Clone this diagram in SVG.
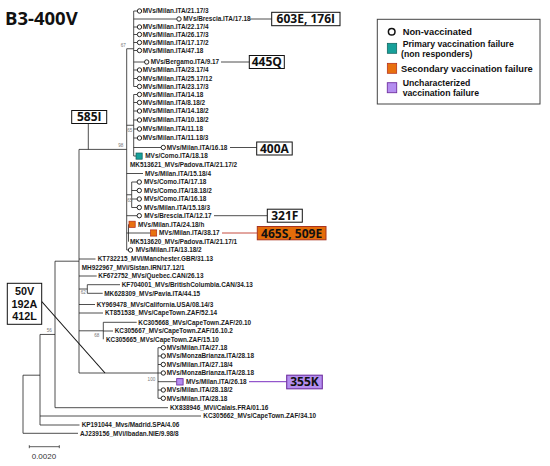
<svg xmlns="http://www.w3.org/2000/svg" width="550" height="466" viewBox="0 0 550 466">
<style>
.lf{font-family:"Liberation Sans",Arial,sans-serif;font-size:6.4px;font-weight:bold;fill:#1a1a1a}
.bs{font-family:"Liberation Sans",Arial,sans-serif;font-size:4.6px;fill:#777}
.br{stroke:#222;stroke-width:0.8;fill:none}
.c{fill:#fff;stroke:#111;stroke-width:0.9}
.box{fill:#fff;stroke:#111;stroke-width:1}
.bl{font-family:"Open Sans","Liberation Sans",sans-serif;font-weight:bold;font-size:12px;fill:#111;text-anchor:middle}
.bm{font-family:"Liberation Sans",Arial,sans-serif;font-weight:bold;font-size:10.8px;fill:#111;text-anchor:middle}
.lg{font-family:"Liberation Sans",Arial,sans-serif;font-weight:bold;font-size:9.3px;fill:#111}
.lg2{font-family:"Liberation Sans",Arial,sans-serif;font-weight:bold;font-size:8.7px;fill:#111}
.teal{fill:#17a09a;stroke:#0d5e5a;stroke-width:0.7}
.org{fill:#e8700f;stroke:#b0281a;stroke-width:0.7}
.pur{fill:#b48ef0;stroke:#7030a0;stroke-width:0.9}
</style>
<rect width="550" height="466" fill="#fff"/>
<text x="5" y="24.5" style="font-family:'Open Sans','Liberation Sans',sans-serif;font-weight:bold;font-size:18.5px;fill:#111">B3-400V</text>

<g id="connectors">
<path class="br" d="M23 375.2V433.3M23 375.2H40M23 433.3H78
M40 334.45V425M40 334.45H55M40 416H201M40 425H79.5
M55 261.2V407.7M55 261.2H79M55 407.7H168
M79 149.4V373M79 149.4H126.7M79 259H95.5M79 276H96.7M79 289H87.3M79 304.5H95M79 313H103M79 330.8H103.3M79 373H158
M87.3 284.7V293.3M87.3 284.7H120M87.3 293.3H102.7
M103.3 322.3V339.3M103.3 322.3H136.7M103.3 331H113
M158 347.7V398.3M158 347.7H161.1M158 356H161.1M158 364.5H161.1M158 373H161.1M158 381.7H176.7M158 390H161.1M158 398.3H161.1
M126.7 48.75V250M126.7 48.75H133.7M126.7 125.25H133.7M126.7 173.5H143M126.7 194.75H131.7M126.7 215.7H137.1M126.7 233H128.5M126.7 250H128.3
M133.7 11V86.5M133.7 11H137.3M133.7 19H176.8M133.7 27H137.3M133.7 34.5H137.3M133.7 42.5H137.3M133.7 50.5H137.3M133.7 62H144.5M133.7 70H137.3M133.7 78.5H137.3M133.7 86.5H137.3
M133.7 94.5V156M133.7 94.5H137.3M133.7 102.5H137.3M133.7 111H137.3M133.7 120H137.3M133.7 129H137.3M133.7 138H137.3M133.7 147.5H161.1M133.7 156H136
M131.7 182V207.5M131.7 182H137.1M131.7 190.5H137.1M131.7 199H137.1M131.7 207.5H137.1
M128.5 224.3V241.7M128.5 233H150.5
M88.3 123.5V149.4
M250 19H271.7M221 62H249.3M230 147.5H256.7M214 215.7H267.3"/>
<path d="M222 233H257.3" stroke="#c0392b" stroke-width="0.9" fill="none"/>
<path d="M249 381.7H286.7" stroke="#7a2fc0" stroke-width="1" fill="none"/>
<path d="M41.7 301.5L105 373" stroke="#111" stroke-width="1.1" fill="none"/>
</g>

<g id="bootstrap">
<text class="bs" x="120.8" y="46.8">67</text>
<text class="bs" x="127.2" y="131.5">65</text>
<text class="bs" x="118.2" y="146.8">98</text>
<text class="bs" x="127.2" y="201.5">65</text>
<text class="bs" x="80.8" y="293.8">62</text>
<text class="bs" x="94.2" y="336.5">68</text>
<text class="bs" x="46.8" y="331.5">56</text>
<text class="bs" x="147.6" y="380.6">100</text>
</g>

<g id="n1"><circle class="c" cx="139.5" cy="11" r="2.2"/><text class="lf" x="142.7" y="13.3">MVs/Milan.ITA/21.17/3</text></g>
<g id="n2"><circle class="c" cx="179" cy="19" r="2.2"/><text class="lf" x="183.3" y="21.3">MVs/Brescia.ITA/17.18</text></g>
<g id="n3"><circle class="c" cx="139.5" cy="27" r="2.2"/><text class="lf" x="142.7" y="29.3">MVs/Milan.ITA/22.17/4</text></g>
<g id="n4"><circle class="c" cx="139.5" cy="34.5" r="2.2"/><text class="lf" x="142.7" y="36.8">MVs/Milan.ITA/26.17/3</text></g>
<g id="n5"><circle class="c" cx="139.5" cy="42.5" r="2.2"/><text class="lf" x="142.7" y="44.8">MVs/Milan.ITA/17.17/2</text></g>
<g id="n6"><circle class="c" cx="139.5" cy="50.5" r="2.2"/><text class="lf" x="142.7" y="52.8">MVs/Milan.ITA/47.18</text></g>
<g id="n7"><circle class="c" cx="146.7" cy="62" r="2.2"/><text class="lf" x="150.7" y="64.3">MVs/Bergamo.ITA/9.17</text></g>
<g id="n8"><circle class="c" cx="139.5" cy="70" r="2.2"/><text class="lf" x="142.7" y="72.3">MVs/Milan.ITA/23.17/4</text></g>
<g id="n9"><circle class="c" cx="139.5" cy="78.5" r="2.2"/><text class="lf" x="142.7" y="80.8">MVs/Milan.ITA/25.17/12</text></g>
<g id="n10"><circle class="c" cx="139.5" cy="86.5" r="2.2"/><text class="lf" x="142.7" y="88.8">MVs/Milan.ITA/23.17/3</text></g>
<g id="n11"><circle class="c" cx="139.5" cy="94.5" r="2.2"/><text class="lf" x="142.7" y="96.8">MVs/Milan.ITA/14.18</text></g>
<g id="n12"><circle class="c" cx="139.5" cy="102.5" r="2.2"/><text class="lf" x="142.7" y="104.8">MVs/Milan.ITA/8.18/2</text></g>
<g id="n13"><circle class="c" cx="139.5" cy="111" r="2.2"/><text class="lf" x="142.7" y="113.3">MVs/Milan.ITA/14.18/2</text></g>
<g id="n14"><circle class="c" cx="139.5" cy="120" r="2.2"/><text class="lf" x="142.7" y="122.3">MVs/Milan.ITA/10.18/2</text></g>
<g id="n15"><circle class="c" cx="139.5" cy="129" r="2.2"/><text class="lf" x="142.7" y="131.3">MVs/Milan.ITA/11.18</text></g>
<g id="n16"><circle class="c" cx="139.5" cy="138" r="2.2"/><text class="lf" x="142.7" y="140.3">MVs/Milan.ITA/11.18/3</text></g>
<g id="n17"><circle class="c" cx="163.3" cy="147.5" r="2.2"/><text class="lf" x="166.7" y="149.8">MVs/Milan.ITA/16.18</text></g>
<g id="n18"><rect class="teal" x="136" y="153" width="6.2" height="6.2"/><text class="lf" x="145.3" y="158.3">MVs/Como.ITA/18.18</text></g>
<g id="n19"><text class="lf" x="130" y="167.3">MK513621_MVs/Padova.ITA/21.17/2</text></g>
<g id="n20"><text class="lf" x="145" y="175.8">MVs/Milan.ITA/15.18/4</text></g>
<g id="n21"><circle class="c" cx="139.3" cy="182" r="2.2"/><text class="lf" x="144" y="184.3">MVs/Como.ITA/17.18</text></g>
<g id="n22"><circle class="c" cx="139.3" cy="190.5" r="2.2"/><text class="lf" x="144" y="192.8">MVs/Como.ITA/18.18/2</text></g>
<g id="n23"><circle class="c" cx="139.3" cy="199" r="2.2"/><text class="lf" x="144" y="201.3">MVs/Como.ITA/16.18</text></g>
<g id="n24"><circle class="c" cx="139.3" cy="207.5" r="2.2"/><text class="lf" x="144" y="209.8">MVs/Milan.ITA/15.18/3</text></g>
<g id="n25"><circle class="c" cx="139.3" cy="215.7" r="2.2"/><text class="lf" x="144.3" y="218">MVs/Brescia.ITA/12.17</text></g>
<g id="n26"><rect class="org" x="129" y="221.2" width="6.2" height="6.2"/><text class="lf" x="138" y="226.6">MVs/Milan.ITA/24.18/h</text></g>
<g id="n27"><rect class="org" x="150.5" y="229.9" width="6.2" height="6.2"/><text class="lf" x="159" y="235.3">MVs/Milan.ITA/38.17</text></g>
<g id="n28"><text class="lf" x="130" y="244">MK513620_MVs/Padova.ITA/21.17/1</text></g>
<g id="n29"><circle class="c" cx="130.5" cy="250" r="2.2"/><text class="lf" x="135.7" y="252.3">MVs/Milan.ITA/13.18/2</text></g>
<g id="n30"><text class="lf" x="97.7" y="261.3">KT732215_MVi/Manchester.GBR/31.13</text></g>
<g id="n31"><text class="lf" x="81.7" y="269.8">MH922967_MVi/Sistan.IRN/17.12/1</text></g>
<g id="n32"><text class="lf" x="98.3" y="278.3">KF672752_MVs/Quebec.CAN/26.13</text></g>
<g id="n33"><text class="lf" x="121.7" y="287">KF704001_MVs/BritishColumbia.CAN/34.13</text></g>
<g id="n34"><text class="lf" x="104.3" y="295.6">MK628309_MVs/Pavia.ITA/44.15</text></g>
<g id="n35"><text class="lf" x="96.7" y="306.8">KY969478_MVs/California.USA/08.14/3</text></g>
<g id="n36"><text class="lf" x="105" y="315.3">KT851538_MVs/CapeTown.ZAF/52.14</text></g>
<g id="n37"><text class="lf" x="138.3" y="324.6">KC305668_MVs/CapeTown.ZAF/20.10</text></g>
<g id="n38"><text class="lf" x="114.7" y="333.3">KC305667_MVs/CapeTown.ZAF/16.10.2</text></g>
<g id="n39"><text class="lf" x="106" y="341.6">KC305665_MVs/CapeTown.ZAF/15.10</text></g>
<g id="n40"><circle class="c" cx="163.3" cy="347.7" r="2.2"/><text class="lf" x="166.7" y="350">MVs/Milan.ITA/27.18</text></g>
<g id="n41"><circle class="c" cx="163.3" cy="356" r="2.2"/><text class="lf" x="166.7" y="358.3">MVs/MonzaBrianza.ITA/28.18</text></g>
<g id="n42"><circle class="c" cx="163.3" cy="364.5" r="2.2"/><text class="lf" x="166.7" y="366.8">MVs/Milan.ITA/27.18/4</text></g>
<g id="n43"><circle class="c" cx="163.3" cy="373" r="2.2"/><text class="lf" x="166.7" y="375.3">MVs/MonzaBrianza.ITA/28.18</text></g>
<g id="n44"><rect class="pur" x="176.7" y="378.6" width="6.4" height="6.4"/><text class="lf" x="186" y="384">MVs/Milan.ITA/26.18</text></g>
<g id="n45"><circle class="c" cx="163.3" cy="390" r="2.2"/><text class="lf" x="166.7" y="392.3">MVs/Milan.ITA/28.18/2</text></g>
<g id="n46"><circle class="c" cx="163.3" cy="398.3" r="2.2"/><text class="lf" x="166.7" y="400.6">MVs/Milan.ITA/28.18</text></g>
<g id="n47"><text class="lf" x="170" y="410">KX838946_MVi/Calais.FRA/01.16</text></g>
<g id="n48"><text class="lf" x="203.3" y="418.3">KC305662_MVs/CapeTown.ZAF/34.10</text></g>
<g id="n49"><text class="lf" x="81.7" y="427.3">KP191044_Mvs/Madrid.SPA/4.06</text></g>
<g id="n50"><text class="lf" x="80" y="435.6">AJ239156_MVi/Ibadan.NIE/9.98/8</text></g>

<g id="m603E"><rect class="box" x="271.7" y="12.3" width="68.3" height="13.4"/><text class="bl" x="305.8" y="23.4">603E, 176I</text></g>
<g id="m445Q"><rect class="box" x="249.3" y="55.5" width="35" height="13"/><text class="bl" x="266.8" y="66.3">445Q</text></g>
<g id="m400A"><rect class="box" x="256.7" y="142" width="35.5" height="13"/><text class="bl" x="274.4" y="152.8">400A</text></g>
<g id="m321F"><rect class="box" x="267.3" y="209.2" width="35" height="13"/><text class="bl" x="284.8" y="219.9">321F</text></g>
<g id="m465S"><rect x="257.3" y="226.5" width="68.7" height="13.3" fill="#e46c0a" stroke="#a8321f" stroke-width="1"/><text class="bl" x="291.6" y="237.5">465S, 509E</text></g>
<g id="m355K"><rect x="286.7" y="375.2" width="35.6" height="13.6" fill="#b48ef0" stroke="#7030a0" stroke-width="1.1"/><text class="bl" x="304.5" y="386.3">355K</text></g>
<g id="m585I"><rect class="box" x="71.7" y="110.5" width="35" height="13"/><text class="bl" x="89.2" y="121.3">585I</text></g>
<g id="m50V"><rect class="box" x="7.3" y="283.3" width="34.4" height="41"/><text class="bm" x="24.5" y="295"><tspan x="24.5" y="295">50V</tspan><tspan x="24.5" y="307.6">192A</tspan><tspan x="24.5" y="320.2">412L</tspan></text></g>

<g id="legend">
<rect x="377.3" y="19.3" width="162.7" height="84.7" fill="#fff" stroke="#444" stroke-width="1"/>
<circle cx="391.7" cy="31.7" r="3.3" fill="#fff" stroke="#111" stroke-width="1.5"/>
<text class="lg" x="402.7" y="35">Non-vaccinated</text>
<rect class="teal" x="387.3" y="43.3" width="9.4" height="10"/>
<text class="lg2" x="402.7" y="47"><tspan x="402.7" y="47">Primary vaccination failure</tspan><tspan x="401" y="57">(non responders)</tspan></text>
<rect class="org" x="387.3" y="63.3" width="9.4" height="10"/>
<text class="lg" x="401" y="71.6">Secondary vaccination failure</text>
<rect class="pur" x="387.3" y="82.7" width="9.4" height="10"/>
<text class="lg2" x="402.7" y="85.6"><tspan x="402.7" y="85.6">Uncharacterized</tspan><tspan x="402.7" y="95.6">vaccination failure</tspan></text>
</g>

<g id="scale">
<path d="M29.3 446.7H59.3M29.3 445.2V448.2M59.3 445.2V448.2" stroke="#333" stroke-width="0.8" fill="none"/>
<text x="31.7" y="459" style="font-family:'Liberation Sans',Arial,sans-serif;font-size:8px;fill:#333">0.0020</text>
</g>
</svg>
